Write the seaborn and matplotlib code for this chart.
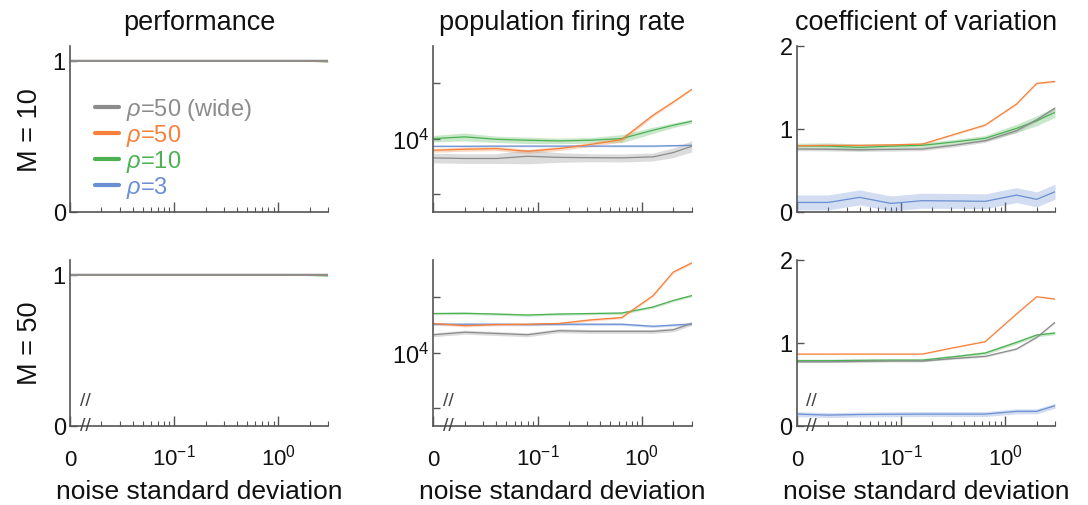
import numpy as np
import pandas as pd
import matplotlib
matplotlib.use("Agg")
import matplotlib.pyplot as plt
import seaborn as sns
from matplotlib.lines import Line2D
from matplotlib.ticker import FixedLocator, LogLocator, NullFormatter

sns.set_style("ticks")
plt.rcParams['font.family'] = ['Liberation Sans', 'DejaVu Sans']
plt.rcParams['mathtext.fontset'] = 'custom'
plt.rcParams['mathtext.rm'] = 'Liberation Sans'
plt.rcParams['mathtext.it'] = 'Liberation Sans:italic'
plt.rcParams['text.color'] = '#111111'
plt.rcParams['axes.labelcolor'] = '#111111'

# noise levels (0 is drawn at the left end of the log axis)
noise = [0, 0.02, 0.04, 0.08, 0.16, 0.32, 0.64, 1.28, 2, 3]
series = ['ρ=50 (wide)', 'ρ=50', 'ρ=10', 'ρ=3']
legend_labels = [r'$\rho$=50 (wide)', r'$\rho$=50', r'$\rho$=10', r'$\rho$=3']
colors = {'ρ=50 (wide)': '#8c8c8c', 'ρ=50': '#f7813b', 'ρ=10': '#4cb153', 'ρ=3': '#6b8fd3'}
draw_order = ['ρ=3', 'ρ=10', 'ρ=50', 'ρ=50 (wide)']
row_labels = ['M = 10', 'M = 50']
col_titles = ['performance', 'population firing rate', 'coefficient of variation']

# performance
perf_m10 = {
    'ρ=3': [1, 1, 1, 1, 1, 1, 1, 1, 1, 0.998],
    'ρ=10': [1, 1, 1, 1, 1, 1, 1, 1, 0.997, 0.994],
    'ρ=50': [1, 1, 1, 1, 1, 1, 1, 1, 0.998, 0.995],
    'ρ=50 (wide)': [1, 1, 1, 1, 1, 1, 1, 1, 1, 1],
}
perf_m50 = {
    'ρ=3': [1, 1, 1, 1, 1, 1, 1, 1, 1, 0.998],
    'ρ=10': [1, 1, 1, 1, 1, 1, 1, 1, 0.996, 0.993],
    'ρ=50': [1, 1, 1, 1, 1, 1, 1, 1, 0.997, 0.996],
    'ρ=50 (wide)': [1, 1, 1, 1, 1, 1, 1, 1, 1, 1],
}
perf_sd = {'ρ=3': [0.002] * 10, 'ρ=10': [0.002] * 10, 'ρ=50': [0.002] * 10, 'ρ=50 (wide)': [0.002] * 10}

# population firing rate (relative spread for the band)
rate_m10 = {
    'ρ=3': [9080, 9080, 9100, 9100, 9100, 9100, 9100, 9100, 9150, 9200],
    'ρ=10': [10000, 10215, 9910, 9790, 9710, 9790, 10000, 11100, 11810, 12420],
    'ρ=50': [8640, 8750, 8820, 8530, 8820, 9280, 9875, 13400, 15800, 18500],
    'ρ=50 (wide)': [7850, 7790, 7790, 8010, 7900, 7870, 7850, 7950, 8390, 9080],
}
rate_m10_sd = {
    'ρ=3': [0.01] * 10,
    'ρ=10': [0.04, 0.05, 0.04, 0.04, 0.035, 0.035, 0.05, 0.04, 0.03, 0.025],
    'ρ=50': [0.025, 0.025, 0.025, 0.025, 0.025, 0.025, 0.03, 0.02, 0.015, 0.01],
    'ρ=50 (wide)': [0.06, 0.06, 0.06, 0.09, 0.06, 0.05, 0.05, 0.05, 0.06, 0.07],
}
rate_m50 = {
    'ρ=3': [14260, 14260, 14260, 14200, 14260, 14260, 14260, 13900, 14100, 14300],
    'ρ=10': [16300, 16350, 16200, 16000, 16200, 16300, 16400, 17700, 19200, 20400],
    'ρ=50': [14400, 14000, 14200, 14260, 14400, 15050, 15500, 20400, 27400, 30700],
    'ρ=50 (wide)': [12500, 12900, 12700, 12500, 13150, 13040, 13040, 13040, 13300, 14400],
}
rate_m50_sd = {
    'ρ=3': [0.015] * 10,
    'ρ=10': [0.015] * 10,
    'ρ=50': [0.015] * 10,
    'ρ=50 (wide)': [0.025] * 10,
}

# coefficient of variation (absolute spread for the band)
cv_m10 = {
    'ρ=3': [0.112, 0.112, 0.173, 0.10, 0.133, 0.13, 0.125, 0.20, 0.149, 0.241],
    'ρ=10': [0.795, 0.79, 0.775, 0.79, 0.80, 0.84, 0.884, 1.004, 1.096, 1.197],
    'ρ=50': [0.795, 0.80, 0.80, 0.805, 0.815, 0.93, 1.044, 1.297, 1.546, 1.57],
    'ρ=50 (wide)': [0.755, 0.752, 0.747, 0.75, 0.755, 0.80, 0.855, 0.976, 1.108, 1.249],
}
cv_m10_sd = {
    'ρ=3': [0.09] * 10,
    'ρ=10': [0.03, 0.04, 0.04, 0.03, 0.03, 0.03, 0.035, 0.05, 0.06, 0.06],
    'ρ=50': [0.01] * 10,
    'ρ=50 (wide)': [0.02] * 10,
}
cv_m50 = {
    'ρ=3': [0.14, 0.128, 0.135, 0.138, 0.14, 0.14, 0.14, 0.173, 0.173, 0.241],
    'ρ=10': [0.783, 0.783, 0.787, 0.79, 0.79, 0.83, 0.875, 1.004, 1.092, 1.116],
    'ρ=50': [0.863, 0.863, 0.863, 0.863, 0.863, 0.94, 1.012, 1.345, 1.554, 1.526],
    'ρ=50 (wide)': [0.771, 0.771, 0.775, 0.78, 0.78, 0.81, 0.835, 0.924, 1.064, 1.245],
}
cv_m50_sd = {
    'ρ=3': [0.03] * 10,
    'ρ=10': [0.02] * 10,
    'ρ=50': [0.005] * 10,
    'ρ=50 (wide)': [0.01] * 10,
}

panels = [
    [(perf_m10, perf_sd, 'abs'), (rate_m10, rate_m10_sd, 'rel'), (cv_m10, cv_m10_sd, 'abs')],
    [(perf_m50, perf_sd, 'abs'), (rate_m50, rate_m50_sd, 'rel'), (cv_m50, cv_m50_sd, 'abs')],
]

x_left = 0.01
xpos = [x_left if v == 0 else v for v in noise]

fig, axes = plt.subplots(2, 3, figsize=(10.88, 5.06), dpi=100)
fig.subplots_adjust(left=0.0643, right=0.9697, bottom=0.1567, top=0.9077, wspace=0.408, hspace=0.289)

spine_col = '#555555'
for r in range(2):
    for c in range(3):
        ax = axes[r, c]
        vals, sds, mode = panels[r][c]
        for s in draw_order:
            v = np.array(vals[s], dtype=float)
            sd = np.array(sds[s], dtype=float)
            if mode == 'rel':
                lo, hi = v * (1 - sd), v * (1 + sd)
            else:
                lo, hi = v - sd, v + sd
            d = pd.DataFrame({'x': xpos, 'value': v, 'lo': lo, 'hi': hi})
            ax.fill_between(d.x, d.lo, d.hi, color=colors[s], alpha=0.3, lw=0, zorder=1)
            lw = 1.5 if (c == 0 and s == 'ρ=50 (wide)') else 0.9
            sns.lineplot(data=d, x='x', y='value', color=colors[s], ax=ax,
                         lw=lw, errorbar=None, zorder=2, snap=False)

        ax.set_xscale('log')
        ax.set_xlim(x_left, 3)
        ax.xaxis.set_major_locator(FixedLocator([0.01, 0.1, 1]))
        ax.xaxis.set_minor_locator(LogLocator(base=10, subs=np.arange(2, 10)))
        ax.xaxis.set_minor_formatter(NullFormatter())
        if c == 1:
            ax.set_yscale('log')
            ax.set_ylim(4000, 32000)
            ax.yaxis.set_major_locator(FixedLocator([5000, 10000, 20000]))
            ax.yaxis.set_minor_locator(FixedLocator([]))
            ax.set_yticklabels(['', r'$10^4$', ''])
        elif c == 0:
            ax.set_ylim(0, 1.1)
            ax.set_yticks([0, 1])
            ax.set_yticklabels(['0', '1'])
        else:
            ax.set_ylim(0, 2)
            ax.set_yticks([0, 1, 2])
            ax.set_yticklabels(['0', '1', '2'])

        sns.despine(ax=ax)
        for sp in ['left', 'bottom']:
            ax.spines[sp].set_color(spine_col)
            ax.spines[sp].set_linewidth(1.2)
        ax.tick_params(axis='both', which='both', direction='in', color=spine_col,
                       labelcolor='#111111')
        ax.tick_params(axis='x', which='major', length=7, width=1, labelsize=16)
        ax.tick_params(axis='x', which='minor', length=3.5, width=0.8)
        ax.tick_params(axis='y', which='major', length=5, width=1, pad=3, labelsize=17)

        if r == 0:
            ax.set_title(col_titles[c], fontsize=19.5, pad=12)
            ax.set_xticklabels(['', '', ''])
            ax.set_xlabel('')
        else:
            ax.set_xticklabels(['0', r'$10^{-1}$', r'$10^{0}$'])
            ax.tick_params(axis='x', which='major', pad=28)
            for lab in ax.get_xticklabels():
                lab.set_verticalalignment('baseline')
            ax.set_xlabel('noise standard deviation', fontsize=19, labelpad=7)
            ax.text(0.058, 0.0, '//', transform=ax.transAxes, fontsize=14,
                    color='#444444', ha='center', va='center')
            ax.text(0.058, 0.15, '//', transform=ax.transAxes, fontsize=14,
                    color='#444444', ha='center', va='center')
        if c == 0:
            ax.set_ylabel(row_labels[r], fontsize=19.5, labelpad=7)
        else:
            ax.set_ylabel('')

handles = [Line2D([0], [0], color=colors[s], lw=3) for s in series]
leg = axes[0, 0].legend(handles, legend_labels, loc='upper left', bbox_to_anchor=(0.06, 0.755),
                        frameon=False, fontsize=17, handlelength=1.0, handletextpad=0.3,
                        labelspacing=0.0, borderaxespad=0)
for t, s in zip(leg.get_texts(), series):
    t.set_color(colors[s])

fig.savefig('out.png', dpi=100)
